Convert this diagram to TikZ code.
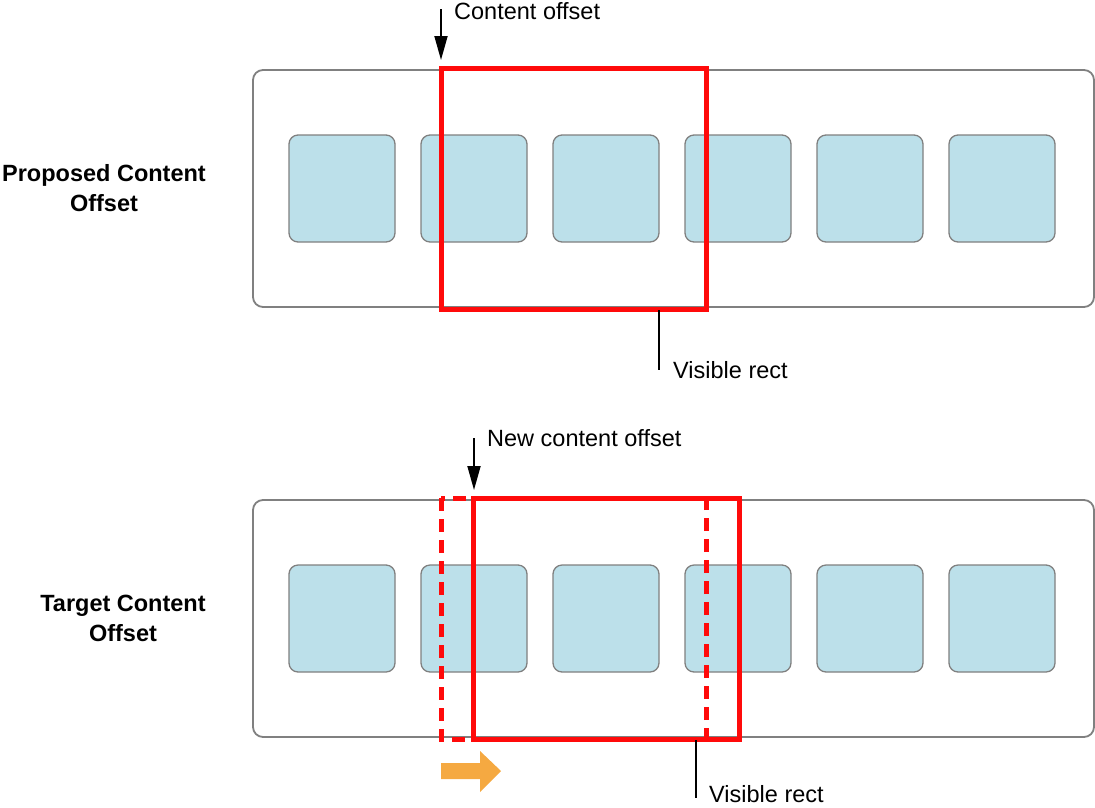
\documentclass[tikz,border=0pt]{standalone}
\usepackage{fontspec}
\setmainfont{Liberation Sans}
\usetikzlibrary{arrows.meta}
\definecolor{boxgray}{HTML}{808080}
\definecolor{itemfill}{HTML}{BCE0EA}
\definecolor{redline}{HTML}{FF0A0A}
\definecolor{orangearrow}{HTML}{F5A941}
\begin{document}
\begin{tikzpicture}[x=1pt,y=-1pt,
  container/.style={draw=boxgray,line width=1.8pt,rounded corners=10pt},
  item/.style={draw=boxgray,fill=itemfill,line width=1.3pt,rounded corners=9pt},
  vrect/.style={draw=redline,line width=5pt},
  vrectdash/.style={draw=redline,line width=5pt,dash pattern=on 13pt off 8pt},
  pointer/.style={line width=1.8pt,-{Triangle[length=24pt,width=13pt]}},
  leader/.style={line width=1.8pt},
  lbl/.style={font=\fontsize{23.5}{28}\selectfont,anchor=west,inner sep=0pt},
  rowlbl/.style={font=\fontsize{23.5}{30}\selectfont\bfseries,align=center,inner sep=0pt}]
\useasboundingbox (0,0) rectangle (1095,807);
% ---------- top row ----------
\draw[container] (253,70) rectangle (1094,307);
\foreach \i/\x in {1/289,2/421,3/553,4/685,5/817,6/949}{
  \draw[item] (\x,135) rectangle ++(106,107);
}
\draw[vrect] (441,68) rectangle (706,309);
\node[rowlbl] (plbl) at (104,188) {Proposed Content\\Offset};
\coordinate (co) at (441,60);
\node[lbl] (colbl) at (454,11) {Content offset};
\draw[pointer] (441,9) -- (co);
\coordinate (vr1) at (659,310);
\node[lbl] (vrlbl1) at (673,370) {Visible rect};
\draw[leader] (vr1) -- (659,370);
% ---------- bottom row ----------
\draw[container] (253,500) rectangle (1094,737);
\foreach \i/\x in {1/289,2/421,3/553,4/685,5/817,6/949}{
  \draw[item] (\x,565) rectangle ++(106,107);
}
\draw[vrectdash] (441,498) rectangle (706,739);
\draw[vrect] (473,498) rectangle (739,739);
\node[rowlbl] (tlbl) at (123,618) {Target Content\\Offset};
\coordinate (nco) at (474,490);
\node[lbl] (ncolbl) at (487,438) {New content offset};
\draw[pointer] (474,438) -- (nco);
\coordinate (vr2) at (696,740);
\node[lbl] (vrlbl2) at (709,794) {Visible rect};
\draw[leader] (vr2) -- (696,798);
\fill[orangearrow] (441,763) -- (480,763) -- (480,751) -- (501,771) -- (480,792) -- (480,779) -- (441,779) -- cycle;
\end{tikzpicture}
\end{document}
